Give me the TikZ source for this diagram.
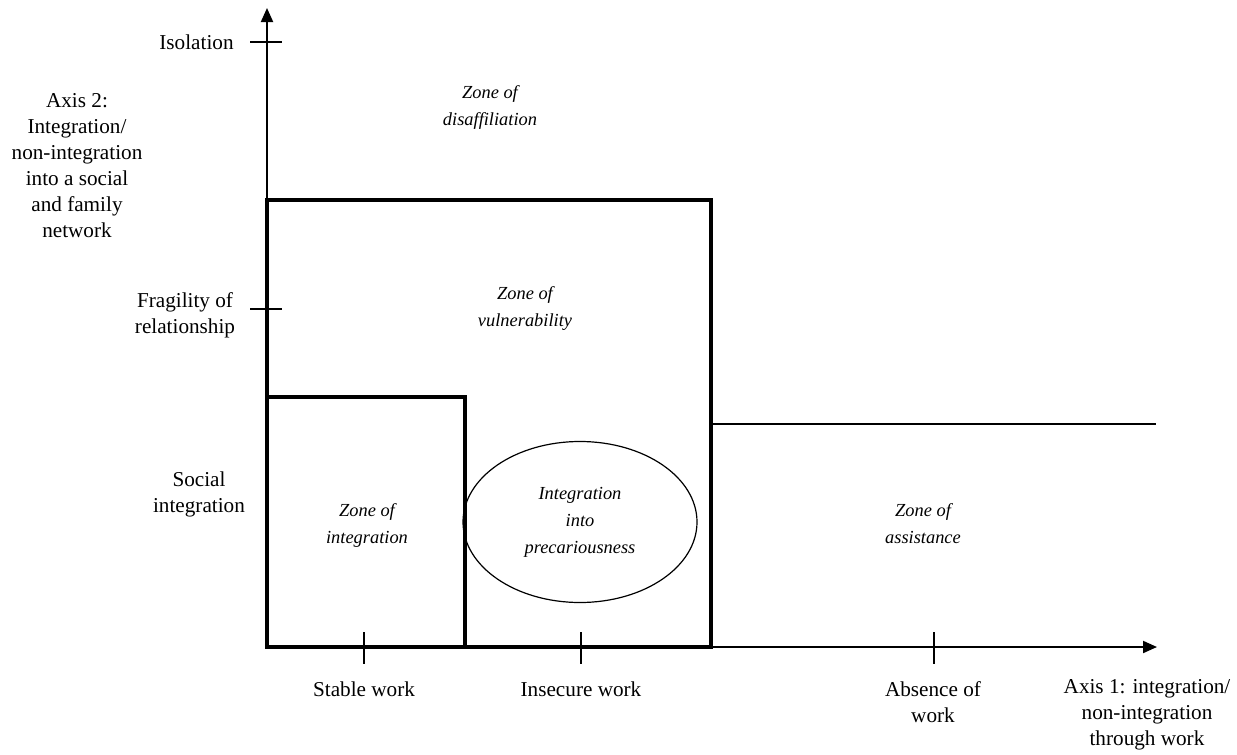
\documentclass[tikz,border=0pt]{standalone}
\usepackage{fontspec}
\setmainfont{Liberation Serif}
\usetikzlibrary{arrows.meta,shapes.geometric}
\begin{document}
\begin{tikzpicture}[x=0.5pt,y=-0.5pt,
  lbl/.style={align=center,inner sep=0pt,font=\fontsize{10.6}{13}\selectfont},
  zone/.style={align=center,inner sep=0pt,font=\fontsize{9.2}{13.5}\selectfont\itshape},
  axisline/.style={line width=1pt,-{Triangle[length=7pt,width=6pt]}},
  thickbox/.style={line width=1.6pt},
  tick/.style={line width=0.6pt}]
\useasboundingbox (0,0) rectangle (1237,755);
% coordinates
\coordinate (O) at (267,647);
\coordinate (Ytip) at (267,8);
\coordinate (Xtip) at (1157,647);
\coordinate (Iso) at (267,42);
\coordinate (Fra) at (267,309);
\coordinate (TStable) at (364,647);
\coordinate (TInsec) at (581,647);
\coordinate (TAbs) at (934,647);
\coordinate (Hstart) at (711,424);
\coordinate (Hend) at (1156,424);
% axes
\draw[axisline] (O) -- (Ytip);
\draw[axisline] (O) -- (Xtip);
% ticks
\draw[tick] ([xshift=-8.5pt]Iso) -- ([xshift=7.5pt]Iso);
\draw[tick] ([xshift=-8.5pt]Fra) -- ([xshift=7.5pt]Fra);
\draw[tick] ([yshift=7.5pt]TStable) -- ([yshift=-8.5pt]TStable);
\draw[tick] ([yshift=7.5pt]TInsec) -- ([yshift=-8.5pt]TInsec);
\draw[tick] ([yshift=7.5pt]TAbs) -- ([yshift=-8.5pt]TAbs);
% boxes
\draw[thickbox] (267,200) rectangle (711,647);
\draw[thickbox] (267,397) rectangle (465,647);
\draw[line width=0.75pt] (Hstart) -- (Hend);
% ellipse
\node[ellipse,draw,line width=0.6pt,minimum width=117pt,minimum height=80.5pt,inner sep=0pt,
  zone] (prec) at (580,522) {Integration\\into\\precariousness};
% labels
\node[lbl,anchor=east] (iso) at (234,42) {Isolation};
\node[lbl] (ax2) at (77,166) {Axis 2:\\Integration/\\non-integration\\into a social\\and family\\network};
\node[lbl] (fra) at (185,315) {Fragility of\\relationship};
\node[lbl] (soc) at (199,494) {Social\\integration};
\node[zone] (dis) at (490,107) {Zone of\\disaffiliation};
\node[zone] (vul) at (525,309) {Zone of\\vulnerability};
\node[zone] (int) at (367,525) {Zone of\\integration};
\node[zone] (ass) at (923,524) {Zone of\\assistance};
\node[lbl] (stable) at (364,689) {Stable work};
\node[lbl] (insec) at (581,689) {Insecure work};
\node[lbl] (abs) at (933,702) {Absence of\\work};
\node[lbl] (ax1) at (1147,715) {Axis 1: integration/\\non-integration\\through work};
\end{tikzpicture}
\end{document}
